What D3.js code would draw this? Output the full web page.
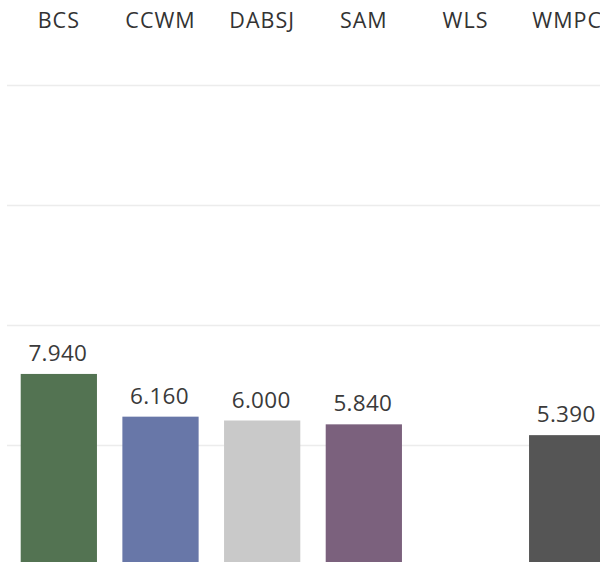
<!DOCTYPE html>
<html>
<head>
<meta charset="utf-8">
<script src="https://cdn.jsdelivr.net/npm/d3@7"></script>
<style>
  html, body { margin: 0; padding: 0; background: #fff; overflow: hidden; }
  svg { display: block; }
</style>
</head>
<body>
<svg id="chart" width="600" height="562"></svg>
<script>
// Categories shown as column headers
const categories = ["BCS", "CCWM", "DABSJ", "SAM", "WLS", "WMPC"];
// Value per category (null = no bar)
const values = [7.94, 6.16, 6.00, 5.84, null, 5.39];
// Fill colour per category
const colors = ["#537352", "#6877a8", "#c9c9c9", "#7b617d", "#8a8a8a", "#555555"];
// Horizontal gridline values
const gridTicks = [5, 10, 15, 20];

const W = 600, H = 562;
const svg = d3.select("#chart");

const x = d3.scaleBand()
  .domain(categories)
  .range([8, 618])
  .paddingInner(0.25)
  .paddingOuter(0.125);

const y = d3.scaleLinear()
  .domain([0, 20])
  .range([564.5, 84.5]);

const fontFam = "'Open Sans', 'Noto Sans', sans-serif";

// gridlines
svg.append("g")
  .selectAll("line")
  .data(gridTicks)
  .join("line")
  .attr("x1", 7)
  .attr("x2", W)
  .attr("y1", d => Math.round(y(d)) + 0.5)
  .attr("y2", d => Math.round(y(d)) + 0.5)
  .attr("stroke", "#ececec")
  .attr("stroke-width", 1.5);

const data = categories.map((c, i) => ({ cat: c, v: values[i], color: colors[i] }))
  .filter(d => d.v != null);

// bars
svg.append("g")
  .selectAll("rect")
  .data(data)
  .join("rect")
  .attr("x", d => x(d.cat))
  .attr("width", x.bandwidth())
  .attr("y", d => y(d.v))
  .attr("height", d => y(0) - y(d.v))
  .attr("fill", d => d.color);

// value labels
svg.append("g")
  .selectAll("text")
  .data(data)
  .join("text")
  .attr("x", d => x(d.cat) + x.bandwidth() / 2 - 1)
  .attr("y", d => y(d.v) - 13)
  .attr("text-anchor", "middle")
  .attr("font-family", fontFam)
  .attr("font-size", 22.5)
  .attr("letter-spacing", 0.3)
  .attr("fill", "#3a3a3a")
  .text(d => d3.format(".3f")(d.v));

// column headers
svg.append("g")
  .selectAll("text")
  .data(categories)
  .join("text")
  .attr("x", d => x(d) + x.bandwidth() / 2)
  .attr("y", 27.5)
  .attr("text-anchor", "middle")
  .attr("font-family", fontFam)
  .attr("font-size", 21.5)
  .attr("letter-spacing", 1)
  .attr("fill", "#333")
  .text(d => d);
</script>
</body>
</html>
